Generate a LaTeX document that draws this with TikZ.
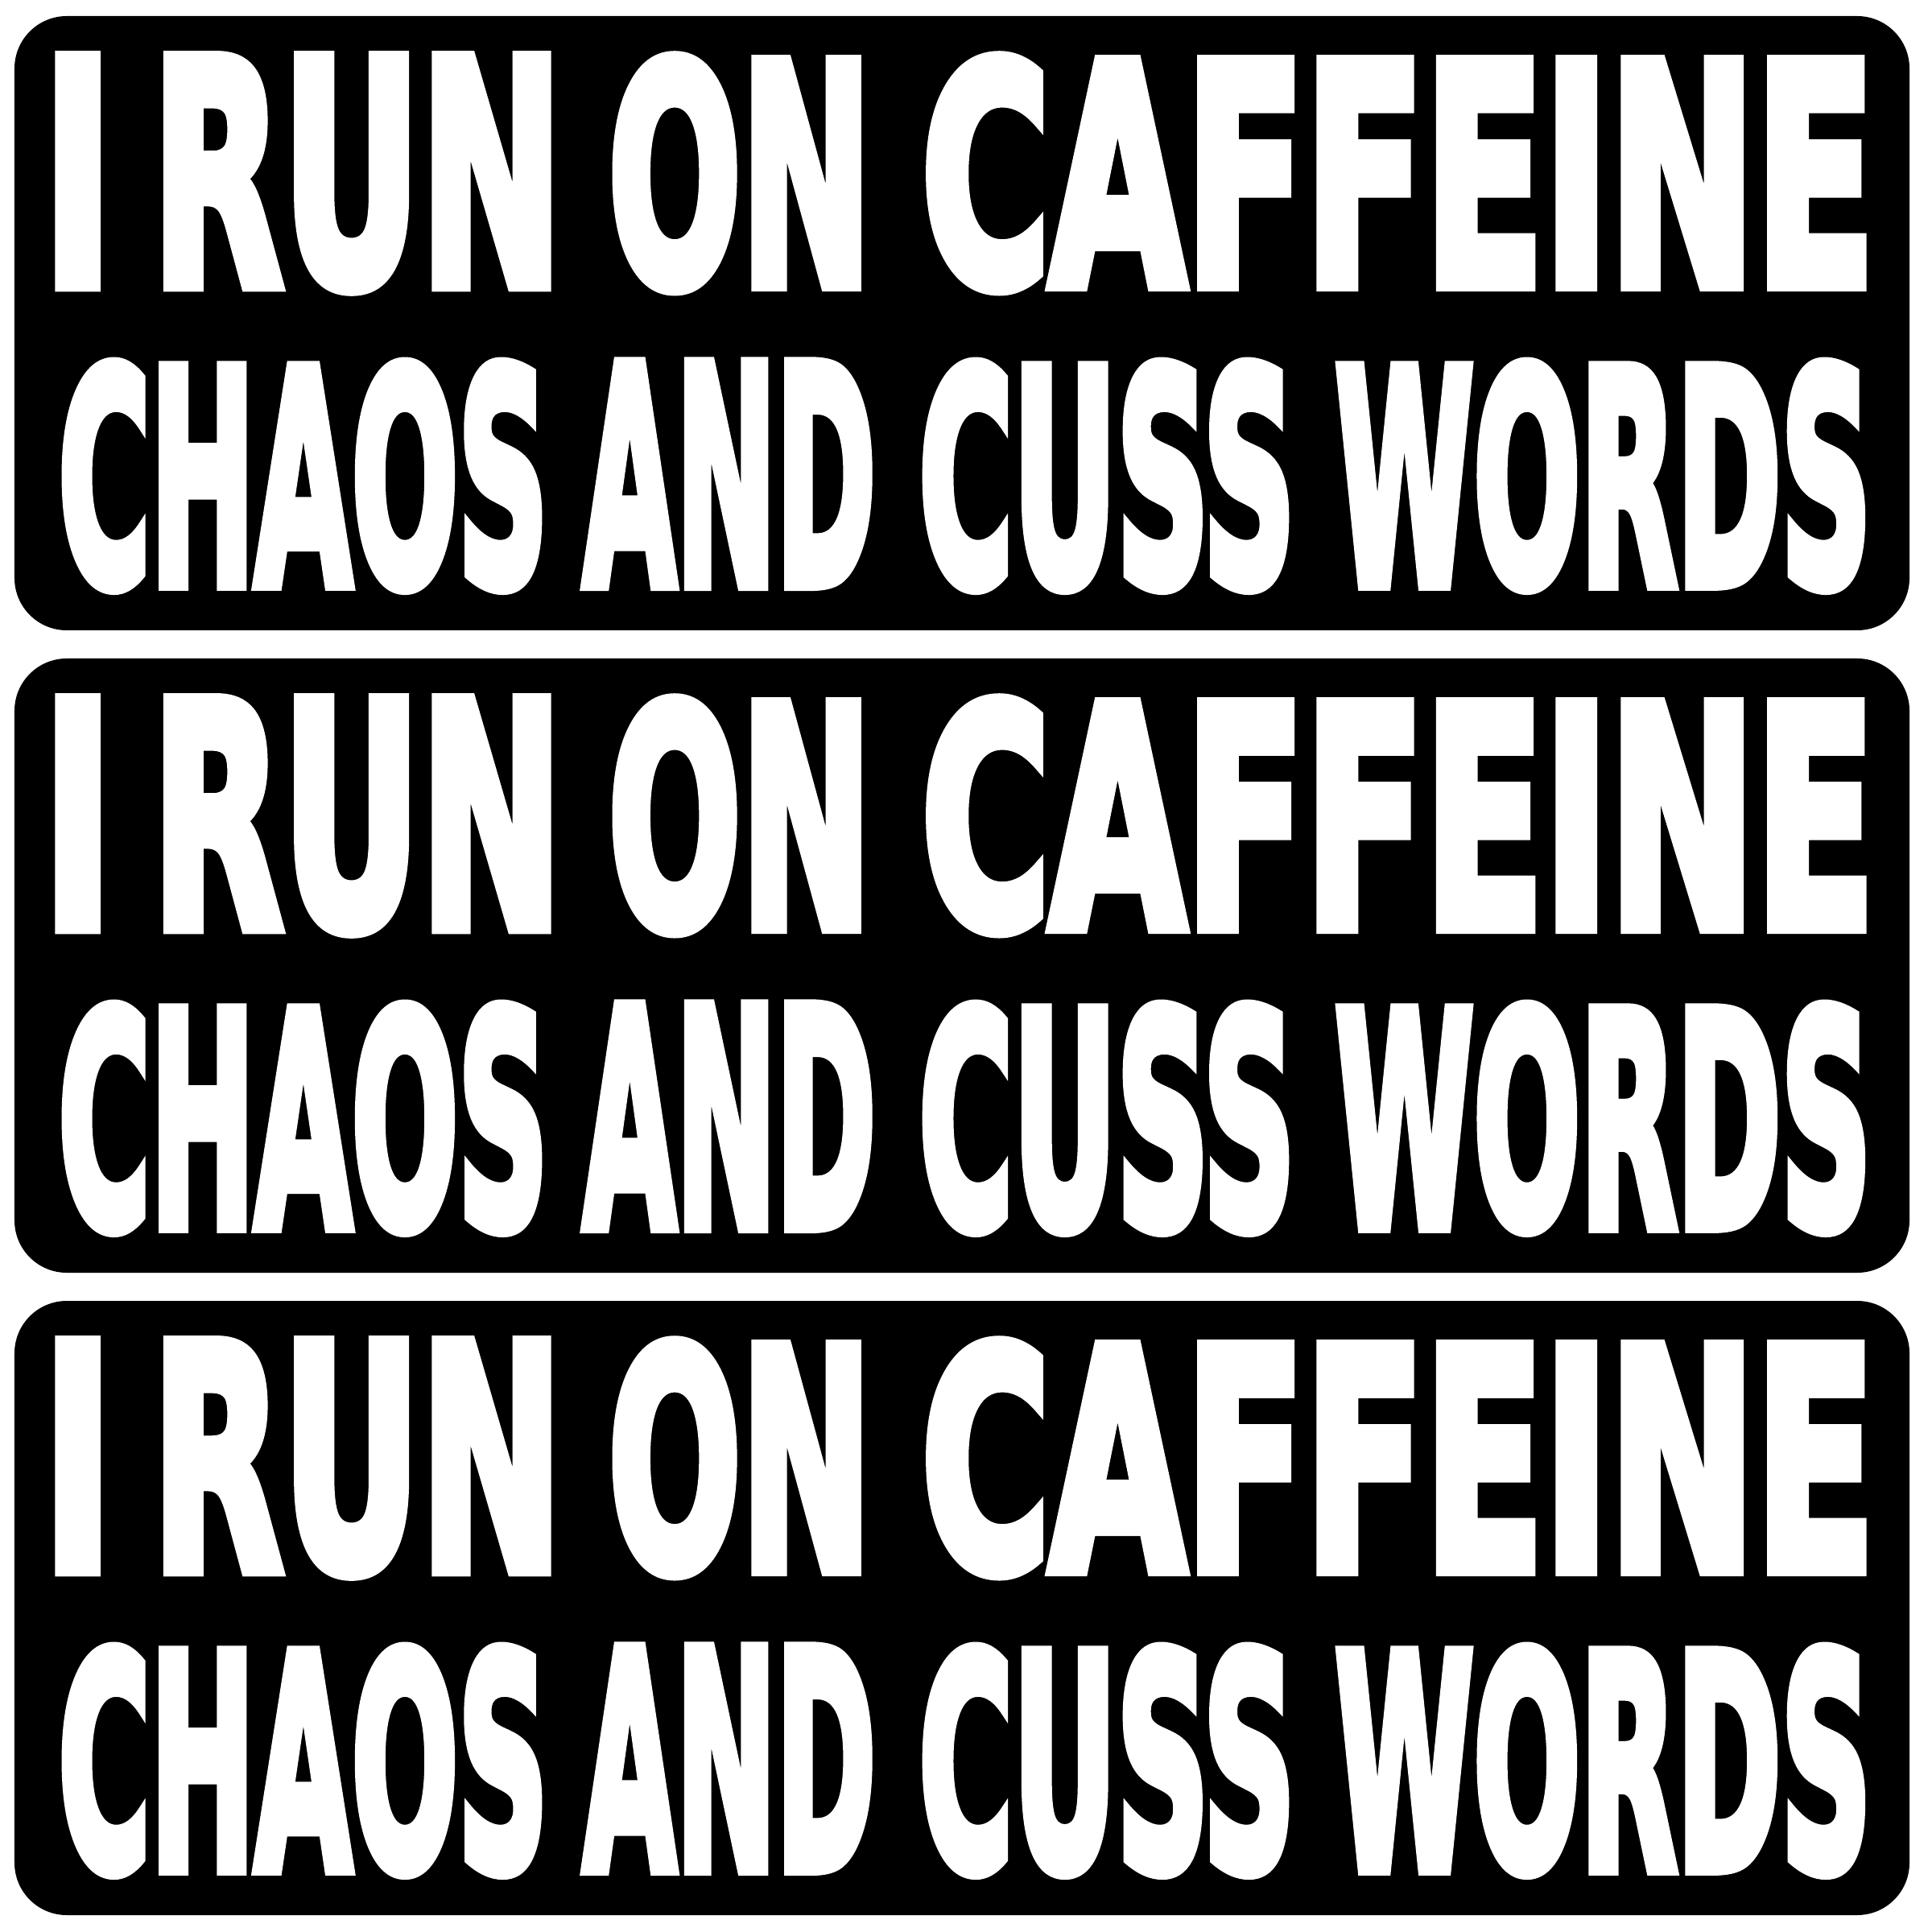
\documentclass[tikz,border=0pt]{standalone}
\usepackage{fontspec}
\usepackage{graphicx}
\setmainfont{DejaVu Sans}[BoldFeatures={FakeBold=5}]

\begin{document}
\begin{tikzpicture}[x=1cm,y=-1cm,
  sticker/.style={fill=black,rounded corners=0.65cm},
  word/.style={text=white,inner sep=0pt,anchor=north west,font=\bfseries}]
  \useasboundingbox (0,0) rectangle (24,24);
  \foreach \n/\dy in {1/0,2/7.98,3/15.96}{
    \fill[sticker] (0.18,0.20+\dy) rectangle (23.72,7.83+\dy);
    % first line
    \node[word] (i\n) at (0.52,0.72+\dy) {\resizebox{0.88cm}{2.80cm}{I}};
    \node[word] (run\n) at (1.88,0.72+\dy) {\resizebox{5.10cm}{2.80cm}{RUN}};
    \node[word] (on\n) at (7.55,0.72+\dy) {\resizebox{3.27cm}{2.80cm}{ON}};
    \node[word] (caffeine\n) at (11.44,0.72+\dy) {\resizebox{11.84cm}{2.80cm}{CAFFEINE}};
    % second line
    \node[word] (chaos\n) at (0.72,4.52+\dy) {\resizebox{6.08cm}{2.72cm}{CHAOS}};
    \node[word] (and\n) at (7.24,4.52+\dy) {\resizebox{3.63cm}{2.72cm}{AND}};
    \node[word] (cuss\n) at (11.41,4.52+\dy) {\resizebox{4.67cm}{2.72cm}{CUSS}};
    \node[word] (words\n) at (16.58,4.52+\dy) {\resizebox{6.66cm}{2.72cm}{WORDS}};
  }
\end{tikzpicture}
\end{document}
